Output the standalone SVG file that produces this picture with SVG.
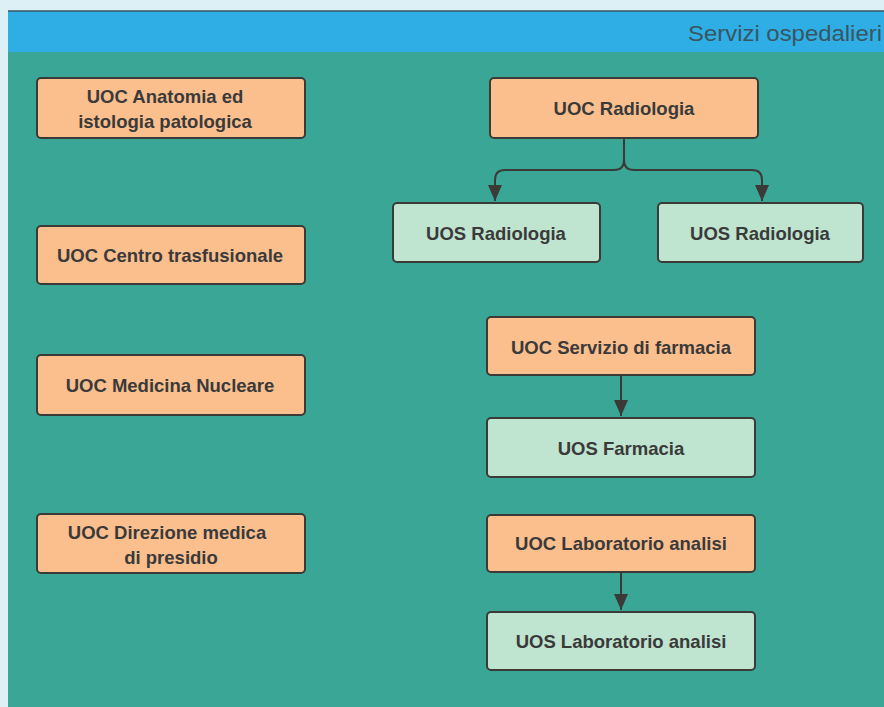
<svg xmlns="http://www.w3.org/2000/svg" width="884" height="707" viewBox="0 0 884 707">
<style>
.uoc{fill:#fbbf8e;stroke:#3b3a36;stroke-width:2}
.uos{fill:#bfe4cf;stroke:#3b3a36;stroke-width:2}
.t{font-family:"Liberation Sans",Arial,sans-serif;font-weight:bold;font-size:18.5px;fill:#3a3a3a;text-anchor:middle}
.c{fill:none;stroke:#3b3a36;stroke-width:2}
</style>
<defs>
<marker id="ah" viewBox="0 0 14 16" refX="7" refY="16" markerWidth="14" markerHeight="16" orient="0" markerUnits="userSpaceOnUse">
<path d="M0,0 L14,0 L7,16 z" fill="#3b3a36"/>
</marker>
</defs>
<rect x="0" y="0" width="884" height="707" fill="#dcf0f6"/>
<rect x="8" y="11" width="876" height="696" fill="#3aa696"/>
<rect x="8" y="11" width="876" height="41" fill="#2eaee5"/>
<line x1="8" y1="11" x2="884" y2="11" stroke="#3b5560" stroke-width="1.5"/>
<text x="882" y="41" font-family="'Liberation Sans',Arial,sans-serif" font-size="22" fill="#3a5562" text-anchor="end" textLength="194" lengthAdjust="spacingAndGlyphs">Servizi ospedalieri</text>
<g id="connectors">
<path class="c" d="M624,138 V160 Q624,170 614,170 H505 Q495,170 495,180 V201" marker-end="url(#ah)"/>
<path class="c" d="M624,160 Q624,170 634,170 H752 Q762,170 762,180 V201" marker-end="url(#ah)"/>
<path class="c" d="M621,375 V416" marker-end="url(#ah)"/>
<path class="c" d="M621,572 V610" marker-end="url(#ah)"/>
</g>
<g id="n1"><rect class="uoc" x="37" y="78" width="268" height="60" rx="4"/><text class="t" x="165" y="103">UOC Anatomia ed</text><text class="t" x="165" y="128">istologia patologica</text></g>
<g id="n2"><rect class="uoc" x="37" y="226" width="268" height="58" rx="4"/><text class="t" x="170" y="262">UOC Centro trasfusionale</text></g>
<g id="n3"><rect class="uoc" x="37" y="355" width="268" height="60" rx="4"/><text class="t" x="170" y="392">UOC Medicina Nucleare</text></g>
<g id="n4"><rect class="uoc" x="37" y="514" width="268" height="59" rx="4"/><text class="t" x="167" y="539">UOC Direzione medica</text><text class="t" x="171" y="564">di presidio</text></g>
<g id="n5"><rect class="uoc" x="490" y="78" width="268" height="60" rx="4"/><text class="t" x="624" y="115">UOC Radiologia</text></g>
<g id="n6"><rect class="uos" x="393" y="203" width="207" height="59" rx="4"/><text class="t" x="496" y="240">UOS Radiologia</text></g>
<g id="n7"><rect class="uos" x="658" y="203" width="205" height="59" rx="4"/><text class="t" x="760" y="240">UOS Radiologia</text></g>
<g id="n8"><rect class="uoc" x="487" y="317" width="268" height="58" rx="4"/><text class="t" x="621" y="354">UOC Servizio di farmacia</text></g>
<g id="n9"><rect class="uos" x="487" y="418" width="268" height="59" rx="4"/><text class="t" x="621" y="455">UOS Farmacia</text></g>
<g id="n10"><rect class="uoc" x="487" y="515" width="268" height="57" rx="4"/><text class="t" x="621" y="550">UOC Laboratorio analisi</text></g>
<g id="n11"><rect class="uos" x="487" y="612" width="268" height="58" rx="4"/><text class="t" x="621" y="648">UOS Laboratorio analisi</text></g>
</svg>
